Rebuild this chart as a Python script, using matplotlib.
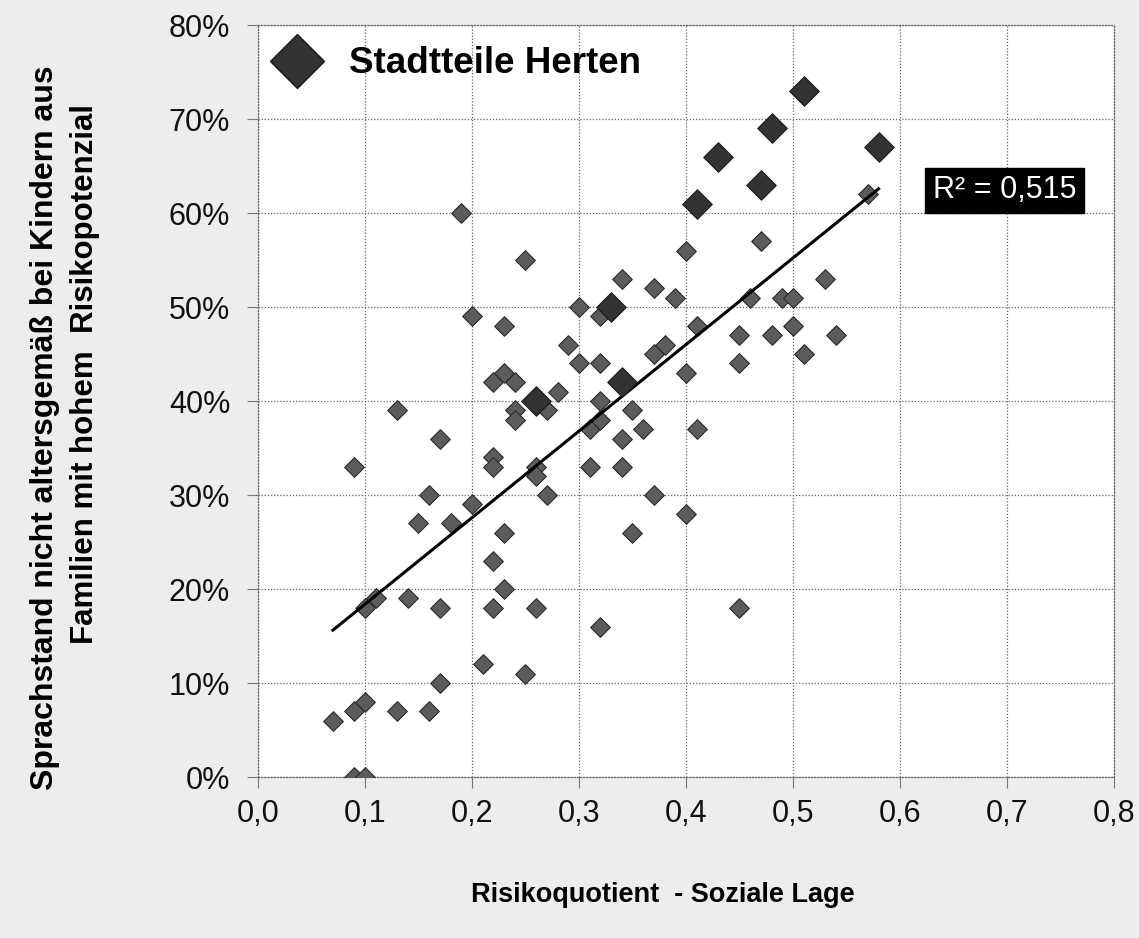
import numpy as np
import matplotlib
matplotlib.use("Agg")
import matplotlib.pyplot as plt
from matplotlib.lines import Line2D
from matplotlib.ticker import FuncFormatter

plt.rcParams['font.family'] = ['Liberation Sans', 'DejaVu Sans']

# Risikoquotient (x) und Anteil Sprachstand nicht altersgemäß in % (y)
risk_all = [0.07, 0.09, 0.10, 0.09, 0.10, 0.09, 0.10, 0.11, 0.13, 0.13,
            0.14, 0.15, 0.16, 0.16, 0.17, 0.17, 0.17, 0.18, 0.19, 0.20,
            0.20, 0.21, 0.22, 0.22, 0.22, 0.22, 0.22, 0.23, 0.23, 0.23,
            0.23, 0.24, 0.24, 0.24, 0.25, 0.25, 0.26, 0.26, 0.26, 0.27,
            0.27, 0.28, 0.29, 0.30, 0.30, 0.31, 0.31, 0.32, 0.32, 0.32,
            0.32, 0.32, 0.34, 0.34, 0.34, 0.35, 0.35, 0.36, 0.37, 0.37,
            0.37, 0.38, 0.39, 0.40, 0.40, 0.40, 0.41, 0.41, 0.45, 0.45,
            0.45, 0.46, 0.47, 0.48, 0.49, 0.50, 0.50, 0.51, 0.53, 0.54,
            0.57]
sprach_all = [6, 7, 8, 0, 0, 33, 18, 19, 39, 7,
              19, 27, 30, 7, 36, 18, 10, 27, 60, 49,
              29, 12, 42, 34, 33, 23, 18, 48, 43, 26,
              20, 42, 39, 38, 55, 11, 33, 32, 18, 39,
              30, 41, 46, 50, 44, 37, 33, 49, 44, 40,
              38, 16, 53, 36, 33, 39, 26, 37, 52, 45,
              30, 46, 51, 56, 43, 28, 48, 37, 47, 44,
              18, 51, 57, 47, 51, 51, 48, 45, 53, 47,
              62]

# Stadtteile Herten (große Rauten)
risk_herten = [0.26, 0.33, 0.34, 0.41, 0.43, 0.47, 0.48, 0.51, 0.58]
sprach_herten = [40, 50, 42, 61, 66, 63, 69, 73, 67]

r2_text = "R² = 0,515"

x_ticks = [0.0, 0.1, 0.2, 0.3, 0.4, 0.5, 0.6, 0.7, 0.8]
y_ticks = [0, 10, 20, 30, 40, 50, 60, 70, 80]

fig = plt.figure(figsize=(11.39, 9.38), dpi=100, facecolor='#ededed')
ax = fig.add_axes([0.2265, 0.1716, 0.7515, 0.8017])
ax.set_facecolor('white')

# lineare Trendlinie über alle Punkte
xs = np.array(risk_all + risk_herten)
ys = np.array(sprach_all + sprach_herten)
k, d = np.polyfit(xs, ys, 1)
xl = np.array([xs.min(), xs.max()])
ax.plot(xl, k * xl + d, color='black', lw=2.2, zorder=4)

ax.scatter(risk_all, sprach_all, marker='D', s=100, facecolor='#5c5c5c',
           edgecolor='#2a2a2a', linewidth=0.8, zorder=3)
ax.scatter(risk_herten, sprach_herten, marker='D', s=225, facecolor='#333333',
           edgecolor='#1a1a1a', linewidth=0.8, zorder=5)

ax.set_xlim(0, 0.8)
ax.set_ylim(0, 80)
ax.set_xticks(x_ticks)
ax.set_yticks(y_ticks)
ax.xaxis.set_major_formatter(FuncFormatter(lambda v, p: f"{v:.1f}".replace('.', ',')))
ax.yaxis.set_major_formatter(FuncFormatter(lambda v, p: f"{v:.0f}%"))
ax.tick_params(axis='both', labelsize=22, length=8, color='#777777', colors='#111111')
ax.tick_params(axis='y', pad=12)
ax.tick_params(axis='x', pad=8)

ax.grid(True, color='#666666', linestyle=(0, (1, 1.5)), linewidth=0.9)
for s in ax.spines.values():
    s.set_color('#666666')
    s.set_linestyle((0, (1, 1.5)))
    s.set_linewidth(0.9)

ax.text(0.698, 62.4, r2_text, ha='center', va='center', color='white', fontsize=22,
        zorder=6, bbox=dict(boxstyle='square,pad=0.25', facecolor='black', edgecolor='black'))

handle = Line2D([], [], marker='D', linestyle='none', markersize=27,
                markerfacecolor='#333333', markeredgecolor='#1a1a1a')
ax.legend([handle], ['Stadtteile Herten'], loc='center left',
          bbox_to_anchor=(0.2446, 0.9318), bbox_transform=fig.transFigure,
          frameon=False, borderpad=0, borderaxespad=0, handlelength=1.0,
          handletextpad=0.9, prop={'weight': 'bold', 'size': 26.5})

ax.set_xlabel("Risikoquotient  - Soziale Lage", fontsize=19.5, fontweight='bold')
ax.xaxis.set_label_coords(0.473, -0.139)

fig.text(45 / 1139, 1 - 428 / 938, "Sprachstand nicht altersgemäß bei Kindern aus",
         rotation=90, ha='center', va='center', fontsize=23, fontweight='bold')
fig.text(85 / 1139, 1 - 374 / 938, "Familien mit hohem  Risikopotenzial",
         rotation=90, ha='center', va='center', fontsize=22.5, fontweight='bold')

fig.savefig("out.png", dpi=100, facecolor=fig.get_facecolor())
